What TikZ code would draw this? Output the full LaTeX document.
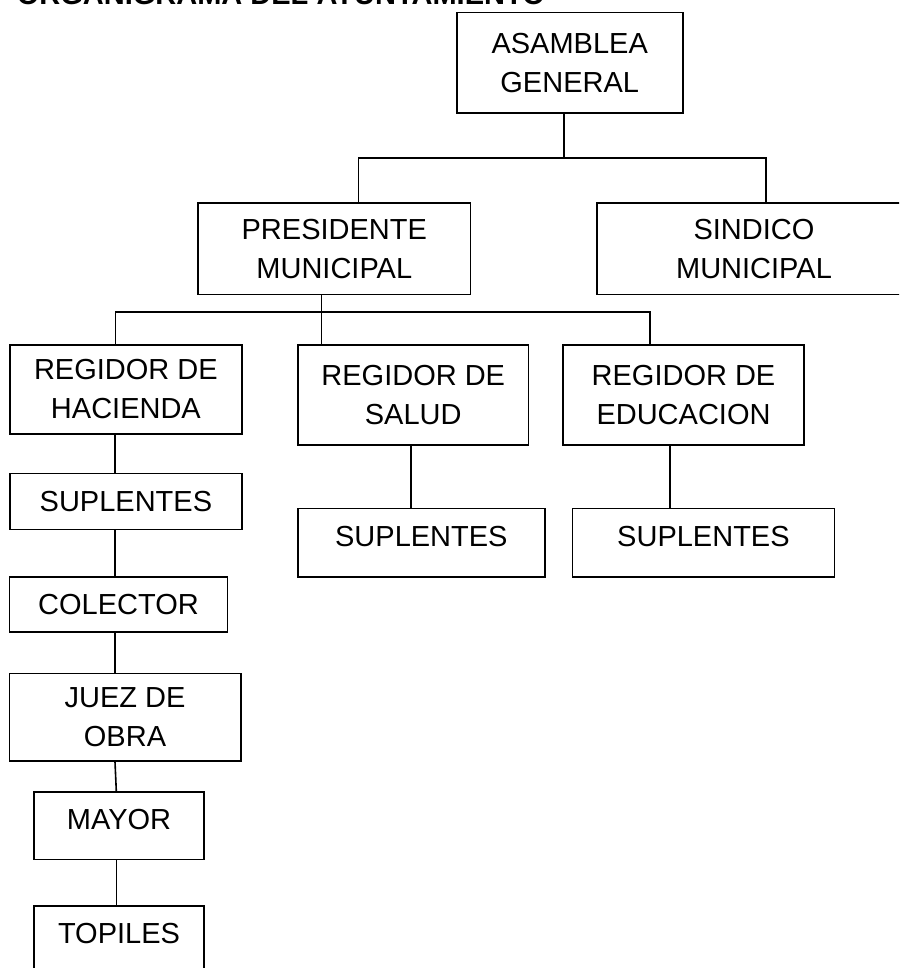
\documentclass[tikz,border=0pt]{standalone}
\usepackage{fontspec}
\setmainfont{Liberation Sans}
\begin{document}
\begin{tikzpicture}[x=1pt,y=-1pt,
  box/.style={draw, line width=1.6pt, rectangle, align=center, inner sep=0pt,
    font=\fontsize{29pt}{39pt}\selectfont},
  conn/.style={line width=1.6pt},
  lowtext/.style={text depth=13pt}]
\useasboundingbox (0,0) rectangle (899,968);
\clip (0,0) rectangle (899,968);

\node[anchor=base west, inner sep=0pt, font=\fontsize{29pt}{35pt}\selectfont\bfseries] (title) at (16.7,4.5) {ORGANIGRAMA DEL AYUNTAMIENTO};

\node[box, minimum width=226pt, minimum height=100.6pt] (asam) at (569.7,63) {ASAMBLEA\\GENERAL};
\node[box, minimum width=272.5pt, minimum height=91pt] (pres) at (334.3,248.8) {PRESIDENTE\\MUNICIPAL};
\node[box, minimum width=314pt, minimum height=91pt] (sind) at (754,248.8) {SINDICO\\MUNICIPAL};

\node[box, minimum width=232.2pt, minimum height=89pt] (reg1) at (125.9,389.5) {REGIDOR DE\\HACIENDA};
\node[box, minimum width=230.5pt, minimum height=100pt] (reg2) at (413.25,395) {REGIDOR DE\\SALUD};
\node[box, minimum width=241pt, minimum height=100pt] (reg3) at (683.5,395) {REGIDOR DE\\EDUCACION};

\node[box, minimum width=232.2pt, minimum height=56pt] (sup1) at (125.9,501.3) {SUPLENTES};
\node[box, lowtext, minimum width=246.7pt, minimum height=68.4pt] (sup2) at (421.35,542.5) {SUPLENTES};
\node[box, lowtext, minimum width=262.3pt, minimum height=68.4pt] (sup3) at (703.45,542.5) {SUPLENTES};

\node[box, minimum width=218pt, minimum height=55pt] (col) at (118.5,604.2) {COLECTOR};
\node[box, minimum width=231.4pt, minimum height=87.7pt] (juez) at (125,717.2) {JUEZ DE\\OBRA};
\node[box, lowtext, minimum width=170pt, minimum height=67.6pt] (mayor) at (119,825.5) {MAYOR};
\node[box, lowtext, minimum width=170pt, minimum height=67.6pt] (topi) at (119,939.8) {TOPILES};

% buses
\coordinate (b1) at (564,158.3);
\coordinate (b1l) at (358.3,158.3);
\coordinate (b1r) at (766,158.3);
\draw[conn] (asam.south -| b1) -- (b1);
\draw[conn] (pres.north -| b1l) -- (b1l) -- (b1r) -- (sind.north -| b1r);

\coordinate (b2) at (321.4,312);
\coordinate (b2l) at (115.3,312);
\coordinate (b2r) at (650,312);
\draw[conn] (pres.south -| b2) -- (b2) -- (reg2.north -| b2);
\draw[conn] (reg1.north -| b2l) -- (b2l) -- (b2r) -- (reg3.north -| b2r);

% vertical chains
\coordinate (v1) at (115,0);
\coordinate (v1b) at (116.3,0);
\coordinate (v2) at (411,0);
\coordinate (v3) at (669.7,0);
\draw[conn] (reg1.south -| v1) -- (sup1.north -| v1);
\draw[conn] (sup1.south -| v1) -- (col.north -| v1);
\draw[conn] (col.south -| v1) -- (juez.north -| v1);
\draw[conn] (juez.south -| v1) -- (mayor.north -| v1b);
\draw[conn] (mayor.south -| v1b) -- (topi.north -| v1b);
\draw[conn] (reg2.south -| v2) -- (sup2.north -| v2);
\draw[conn] (reg3.south -| v3) -- (sup3.north -| v3);
\end{tikzpicture}
\end{document}
